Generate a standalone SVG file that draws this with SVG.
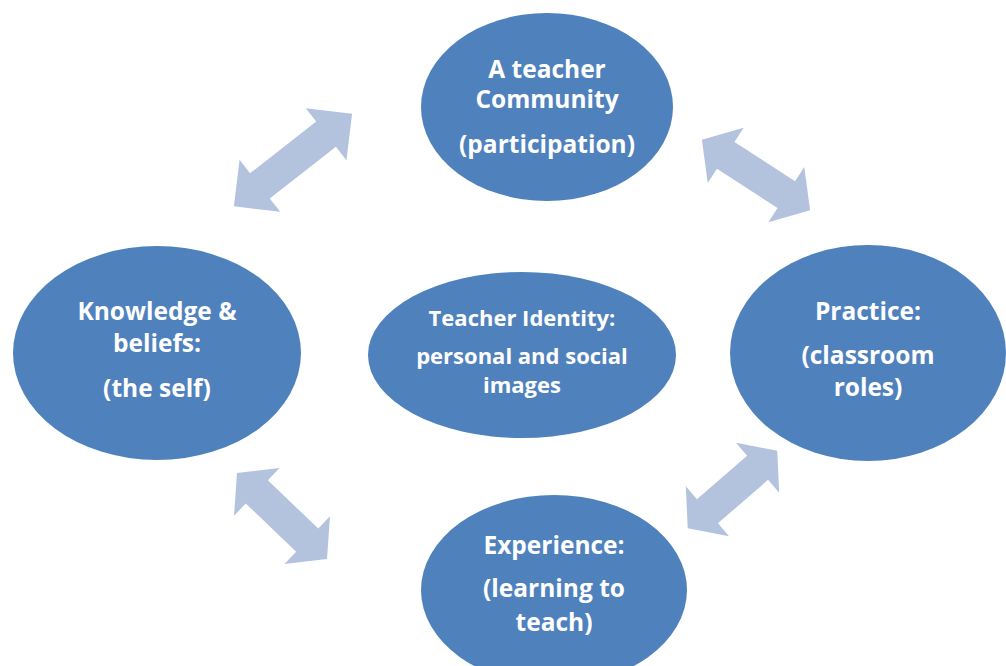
<svg xmlns="http://www.w3.org/2000/svg" width="1006" height="666" viewBox="0 0 1006 666">
<style>
.node{fill:#4F81BD}
.arr{fill:#B3C3DE}
.t{fill:#FFFFFF;font-family:"Open Sans",Lato,"Liberation Sans",sans-serif;font-weight:bold;font-size:24.5px;text-anchor:middle}
.s{font-size:22px}
</style>
<defs>
<polygon id="dbl" points="-75,0 -42,-33 -42,-16 42,-16 42,-33 75,0 42,33 42,16 -42,16 -42,33"/>
</defs>
<rect width="1006" height="666" fill="#FFFFFF"/>
<g id="connectors" class="arr">
<use href="#dbl" transform="translate(293,160) rotate(-38)"/>
<use href="#dbl" transform="translate(756,175) rotate(33) scale(0.86,1)"/>
<use href="#dbl" transform="translate(282,516) rotate(43.7) scale(0.83,1)"/>
<use href="#dbl" transform="translate(732.5,489.5) rotate(-40.9) scale(0.79,1)"/>
</g>
<g id="community">
<ellipse class="node" cx="547" cy="107" rx="126" ry="94"/>
<text class="t" x="547" y="78">A teacher</text>
<text class="t" x="547" y="108">Community</text>
<text class="t" x="547" y="153">(participation)</text>
</g>
<g id="knowledge">
<ellipse class="node" cx="157" cy="353" rx="144" ry="107"/>
<text class="t" x="157" y="320">Knowledge &amp;</text>
<text class="t" x="157" y="352">beliefs:</text>
<text class="t" x="157" y="397">(the self)</text>
</g>
<g id="identity">
<ellipse class="node" cx="522" cy="355" rx="154" ry="83"/>
<text class="t s" x="522" y="326">Teacher Identity:</text>
<text class="t s" x="522" y="364">personal and social</text>
<text class="t s" x="522" y="393">images</text>
</g>
<g id="practice">
<ellipse class="node" cx="868" cy="353" rx="138" ry="108"/>
<text class="t" x="868" y="320">Practice:</text>
<text class="t" x="868" y="364">(classroom</text>
<text class="t" x="868" y="396">roles)</text>
</g>
<g id="experience">
<ellipse class="node" cx="554" cy="590" rx="133" ry="95"/>
<text class="t" x="554" y="554">Experience:</text>
<text class="t" x="554" y="597">(learning to</text>
<text class="t" x="554" y="631">teach)</text>
</g>
</svg>
